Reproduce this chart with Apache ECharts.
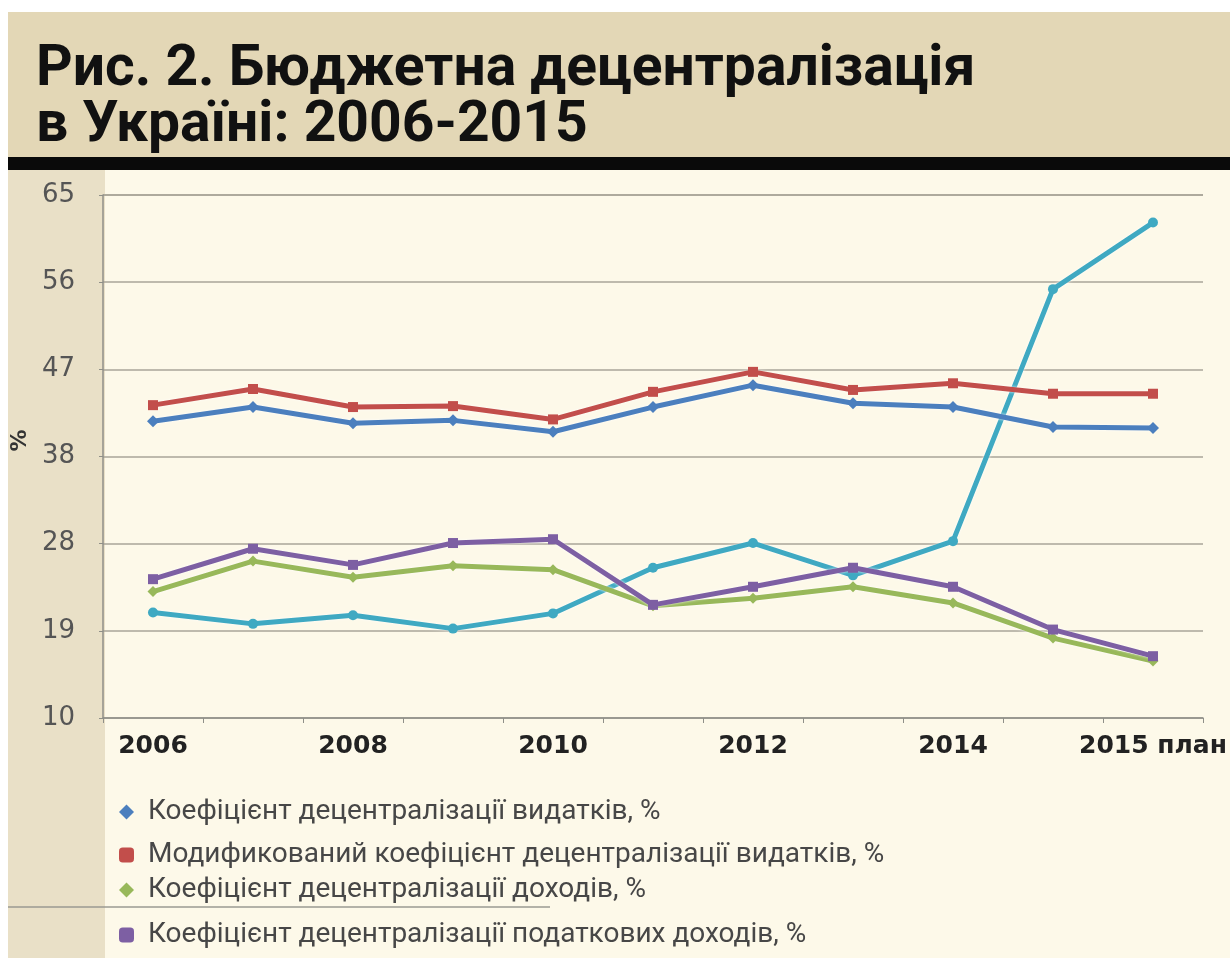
<!DOCTYPE html>
<html>
<head>
<meta charset="utf-8">
<script src="https://cdn.jsdelivr.net/npm/echarts@6/dist/echarts.min.js"></script>
<style>
html,body{margin:0;padding:0;background:#fff;}
#c{width:1230px;height:958px;}
</style>
</head>
<body>
<div id="c"></div>
<script>
const categories = ['2006','2007','2008','2009','2010','2011','2012','2013','2014','2015','2015 план'];
const expenditureCoef = [41.2, 42.7, 41.0, 41.3, 40.1, 42.7, 45.0, 43.1, 42.7, 40.6, 40.5];
const modifiedExpenditureCoef = [42.9, 44.6, 42.7, 42.8, 41.4, 44.3, 46.4, 44.5, 45.2, 44.1, 44.1];
const revenueCoef = [23.3, 26.5, 24.8, 26.0, 25.6, 21.8, 22.6, 23.8, 22.1, 18.4, 16.0];
const taxRevenueCoef = [24.6, 27.8, 26.1, 28.4, 28.8, 21.9, 23.8, 25.8, 23.8, 19.3, 16.5];
const extraSeries = [21.1, 19.9, 20.8, 19.4, 21.0, 25.8, 28.4, 25.0, 28.6, 55.1, 62.1];
const yMin = 10, yMax = 65;

const names = [
  'Коефіцієнт децентралізації видатків, %',
  'Модификований коефіцієнт децентралізації видатків, %',
  'Коефіцієнт децентралізації доходів, %',
  'Коефіцієнт децентралізації податкових доходів, %'
];

const chart = echarts.init(document.getElementById('c'), null, {renderer: 'canvas'});
const legendFont = {fontFamily: "'Liberation Sans Narrow', Roboto, sans-serif", fontSize: 28, color: '#474747', padding: [0, 0, 0, 9]};
function legend(i, top, icon) {
  return {
    data: [{name: names[i], icon: icon}],
    left: 114, top: top, orient: 'vertical',
    itemWidth: 15, itemHeight: 15, itemGap: 0,
    textStyle: legendFont, selectedMode: false
  };
}
function lineSeries(name, data, color, symbol, size, z) {
  return {
    name: name, type: 'line', data: data, z: z,
    symbol: symbol, symbolSize: size, showSymbol: true,
    itemStyle: {color: color},
    lineStyle: {color: color, width: 5, shadowColor: 'rgba(255,255,255,0.9)', shadowBlur: 3},
    emphasis: {disabled: true}, animation: false
  };
}

chart.setOption({
  animation: false,
  graphic: [
    {type: 'rect', z: -10, shape: {x: 8, y: 12, width: 1222, height: 146}, style: {fill: '#e3d7b6'}},
    {type: 'rect', z: -10, shape: {x: 8, y: 157, width: 1222, height: 13}, style: {fill: '#0a0a0a'}},
    {type: 'rect', z: -10, shape: {x: 8, y: 170, width: 97, height: 788}, style: {fill: '#e9e0c7'}},
    {type: 'rect', z: -10, shape: {x: 105, y: 170, width: 1125, height: 788}, style: {fill: '#fdf9e9'}},
    {type: 'line', z: -5, shape: {x1: 8, y1: 907, x2: 550, y2: 907}, style: {stroke: '#9a9a92', lineWidth: 1.5}}
  ],
  title: {
    text: 'Рис. 2. Бюджетна децентралізація\nв Україні: 2006-2015',
    left: 31, top: 38,
    textStyle: {fontFamily: 'Roboto, sans-serif', fontWeight: 'bold', fontSize: 57, lineHeight: 56, color: '#111'}
  },
  legend: [
    legend(0, 793, 'diamond'),
    legend(1, 836, 'roundRect'),
    legend(2, 871, 'diamond'),
    legend(3, 916, 'roundRect')
  ],
  grid: {left: 103, right: 27, top: 195, bottom: 240, containLabel: false},
  xAxis: {
    type: 'category', data: categories, boundaryGap: true,
    axisLine: {lineStyle: {color: '#8f8f88', width: 1.5}},
    axisTick: {show: true, interval: 0, length: 5, lineStyle: {color: '#8f8f88'}},
    axisLabel: {
      interval: function (i) { return i % 2 === 0; },
      margin: 16, color: '#222', fontFamily: "'DejaVu Sans', sans-serif", fontWeight: 'bold', fontSize: 25
    },
    splitLine: {show: false}
  },
  yAxis: {
    type: 'value', min: yMin, max: yMax, interval: (yMax - yMin) / 6,
    name: '%', nameLocation: 'middle', nameRotate: 90, nameGap: 66,
    nameTextStyle: {fontFamily: "'DejaVu Sans', sans-serif", fontWeight: 'bold', fontSize: 22, color: '#333', padding: [0, 0, 0, 32]},
    axisLine: {show: true, lineStyle: {color: '#8f8f88', width: 1.5}},
    axisTick: {show: true, length: 4, lineStyle: {color: '#8f8f88'}},
    axisLabel: {
      formatter: function (v) { return Math.round(v + 0.001); },
      margin: 28, color: '#555', fontFamily: "'DejaVu Sans', sans-serif", fontSize: 26
    },
    splitLine: {show: true, lineStyle: {color: '#a8a498', width: 1.5}}
  },
  series: [
    lineSeries('extra', extraSeries, '#3fa9c2', 'circle', 10, 2),
    lineSeries(names[0], expenditureCoef, '#4b7fbe', 'diamond', 12, 3),
    lineSeries(names[1], modifiedExpenditureCoef, '#c24e4b', 'rect', 10, 3),
    lineSeries(names[2], revenueCoef, '#98b85a', 'diamond', 11, 3),
    lineSeries(names[3], taxRevenueCoef, '#7d5fa3', 'rect', 10, 4)
  ]
});
</script>
</body>
</html>
